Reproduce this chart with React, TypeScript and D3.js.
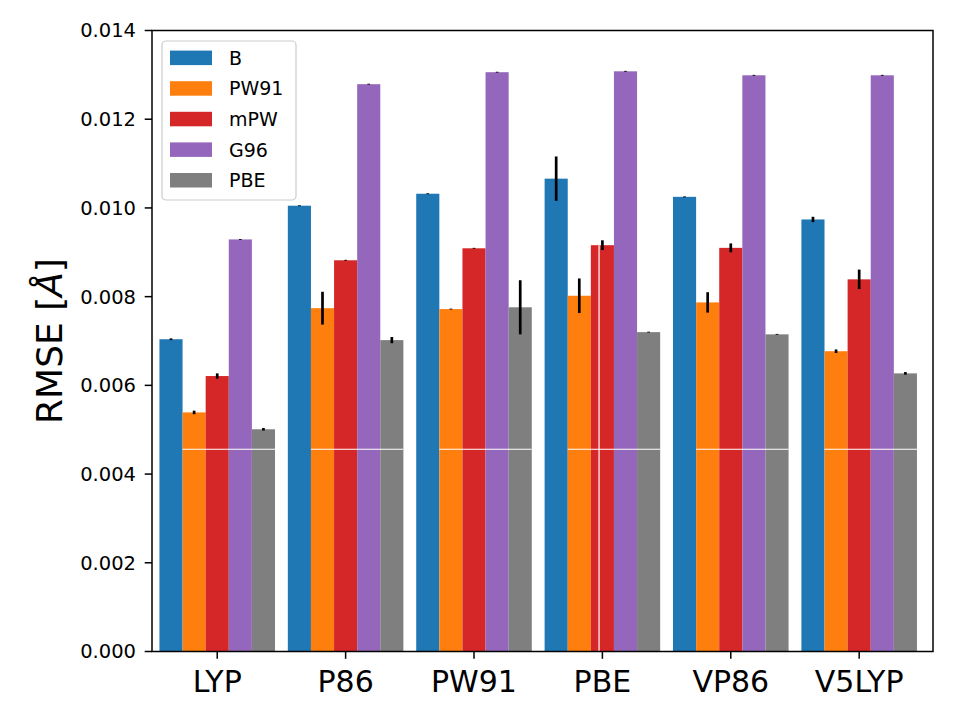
import React from 'react';
import * as d3 from 'd3';

const categories = ['LYP', 'P86', 'PW91', 'PBE', 'VP86', 'V5LYP'];
const seriesNames = ['B', 'PW91', 'mPW', 'G96', 'PBE'];
const colors = ['#1f77b4', '#ff7f0e', '#d62728', '#9467bd', '#7f7f7f'];

const bValues = [0.00704, 0.01005, 0.01032, 0.01066, 0.01025, 0.00974];
const bErrors = [0.00002, 0.00001, 0.00001, 0.0005, 0.00001, 0.00006];
const pw91Values = [0.00539, 0.00774, 0.00772, 0.00802, 0.00787, 0.00677];
const pw91Errors = [0.00004, 0.00037, 0.00001, 0.00039, 0.00023, 0.00004];
const mpwValues = [0.00621, 0.00882, 0.00909, 0.00916, 0.0091, 0.00839];
const mpwErrors = [0.00006, 0.00001, 0.00001, 0.00011, 0.0001, 0.00022];
const g96Values = [0.00929, 0.01279, 0.01306, 0.01308, 0.01299, 0.01299];
const g96Errors = [0.00001, 0.00001, 0.00001, 0.00001, 0.00001, 0.00001];
const pbeValues = [0.00501, 0.00702, 0.00776, 0.0072, 0.00715, 0.00627];
const pbeErrors = [0.00003, 0.00007, 0.00061, 0.00001, 0.00001, 0.00003];

const yTicks = [0, 0.002, 0.004, 0.006, 0.008, 0.01, 0.012, 0.014];

// thin white strokes that run across the bars
const stripeLevel = 0.00456;
const splitGroup = 3;
const splitOffset = -0.026;

const values = [bValues, pw91Values, mpwValues, g96Values, pbeValues];
const errors = [bErrors, pw91Errors, mpwErrors, g96Errors, pbeErrors];

const W = 960;
const H = 720;
const left = 152;
const right = 933;
const top = 30.5;
const bottom = 651.5;
const barW = 0.18;
const font = '"DejaVu Sans", sans-serif';

export default function App() {
  const x = d3.scaleLinear().domain([-0.508, 5.575]).range([left, right]);
  const y = d3.scaleLinear().domain([0, 0.014]).range([bottom, top]);

  const bars = values.flatMap((vals, s) =>
    vals.map((v, g) => {
      const x0 = g - 0.45 + s * barW;
      return { s, g, v, err: errors[s][g], x0, x1: x0 + barW };
    })
  );

  return (
    <svg width={W} height={H} style={{ display: 'block', position: 'absolute', left: 0, top: 0 }}>
      <rect width={W} height={H} fill="#fff" />

      {bars.map((b, i) => (
        <rect
          key={i}
          x={x(b.x0)}
          y={y(b.v)}
          width={x(b.x1) - x(b.x0)}
          height={y(0) - y(b.v)}
          fill={colors[b.s]}
        />
      ))}

      {/* white stripes */}
      {categories.map((_, g) => (
        <line
          key={g}
          x1={x(g - 0.45 + barW)}
          x2={x(g + 0.45)}
          y1={y(stripeLevel)}
          y2={y(stripeLevel)}
          stroke="#fff"
          strokeWidth={1.2}
        />
      ))}
      <line
        x1={x(splitGroup + splitOffset)}
        x2={x(splitGroup + splitOffset)}
        y1={y(mpwValues[splitGroup])}
        y2={y(0)}
        stroke="#fff"
        strokeWidth={1.2}
      />

      {/* error bars */}
      {bars.map((b, i) => {
        const cx = x((b.x0 + b.x1) / 2);
        return (
          <line
            key={i}
            x1={cx}
            x2={cx}
            y1={y(b.v - b.err)}
            y2={y(b.v + b.err)}
            stroke="#000"
            strokeWidth={2.7}
          />
        );
      })}

      {/* frame */}
      <rect x={left} y={top} width={right - left} height={bottom - top} fill="none" stroke="#000" strokeWidth={1.5} />

      {/* y axis */}
      {yTicks.map((t) => (
        <g key={t}>
          <line x1={left - 7.3} x2={left} y1={y(t)} y2={y(t)} stroke="#000" strokeWidth={1.5} />
          <text x={136} y={y(t) + 6.9} textAnchor="end" fontFamily={font} fontSize={19.5}>
            {t.toFixed(3)}
          </text>
        </g>
      ))}
      <text transform={`translate(62,341) rotate(-90)`} textAnchor="middle" fontFamily={font} fontSize={36}>
        RMSE [<tspan fontStyle="italic">Å</tspan>]
      </text>

      {/* x axis */}
      {categories.map((c, g) => (
        <g key={c}>
          <line x1={x(g)} x2={x(g)} y1={bottom} y2={bottom + 7.3} stroke="#000" strokeWidth={1.5} />
          <text x={x(g)} y={691.7} textAnchor="middle" fontFamily={font} fontSize={30}>
            {c}
          </text>
        </g>
      ))}

      {/* legend */}
      <rect x={162} y={41} width={134} height={159} rx={4} fill="#fff" fillOpacity={0.8} stroke="#cccccc" strokeWidth={1.2} />
      {seriesNames.map((name, i) => {
        const cy = 57.8 + i * 30.6;
        return (
          <g key={name}>
            <rect x={170} y={cy - 7.2} width={42} height={14.5} fill={colors[i]} />
            <text x={229} y={cy + 6.9} fontFamily={font} fontSize={19}>
              {name}
            </text>
          </g>
        );
      })}
    </svg>
  );
}
